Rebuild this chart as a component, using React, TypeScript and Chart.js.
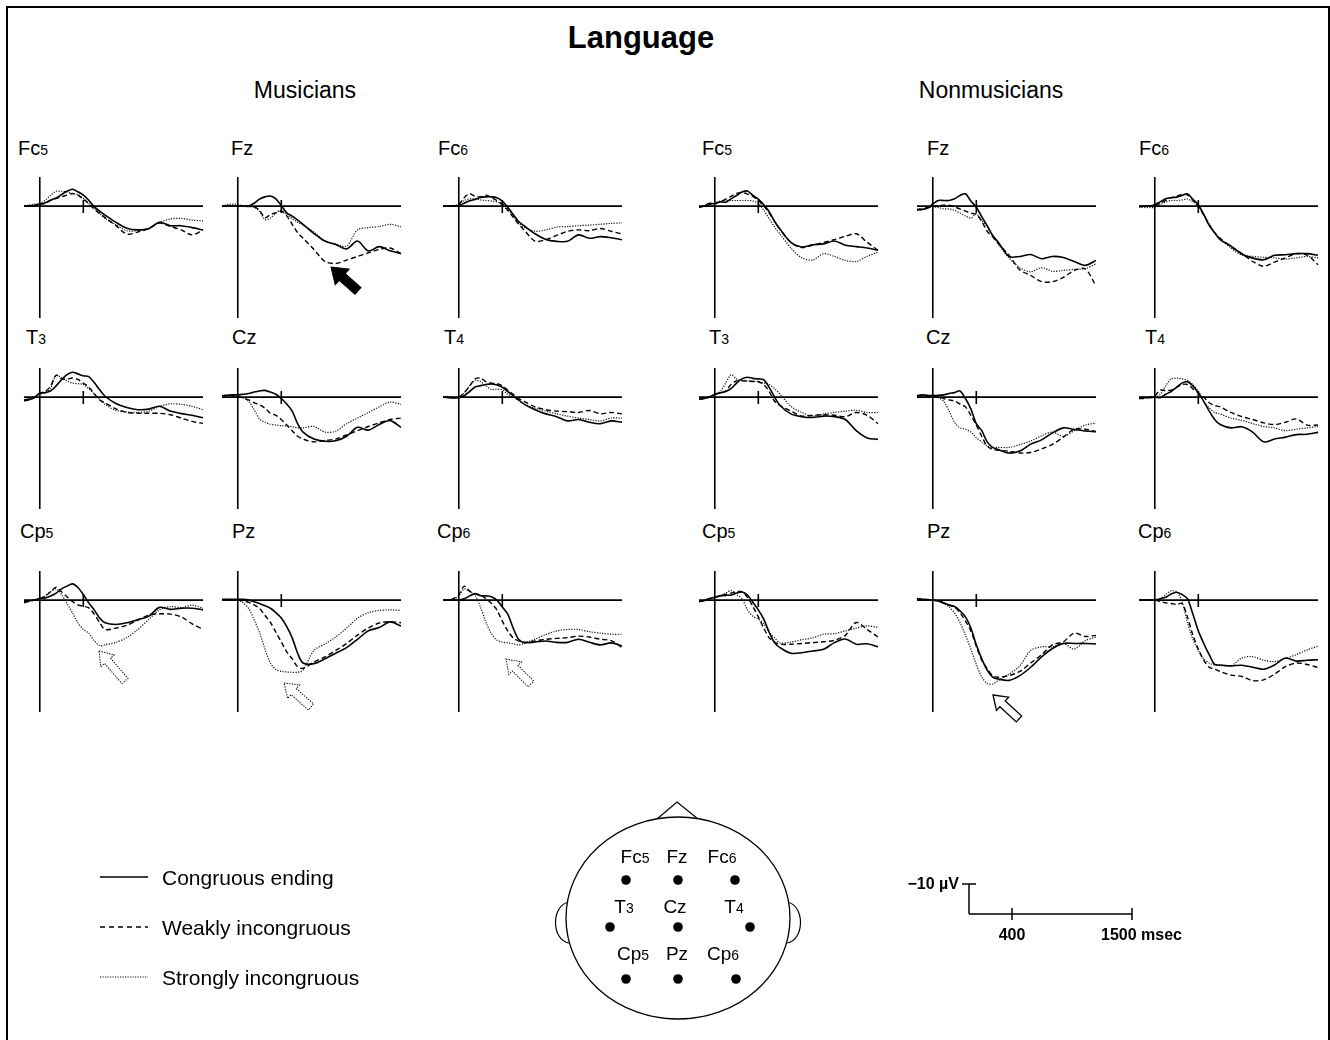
import React, { useEffect, useRef } from "react";
import { Chart, registerables } from "chart.js";

Chart.register(...registerables);

const FONT = "'Liberation Sans', Arial, Helvetica, sans-serif";

// ---- time axis (ms) shared by all waveforms ----
const TIMES = [-145, -100, -50, 0, 50, 100, 150, 200, 250, 300, 350, 400, 450, 500, 550, 600, 700, 800, 900, 1000, 1100, 1200, 1300, 1400, 1500];
const CONDITIONS = ["Congruous ending", "Weakly incongruous", "Strongly incongruous"];
const T_MIN = -145;
const T_MAX = 1500;
const V_MIN = -10.4; // µV (negative up)
const V_MAX = 40;
const TICK_MS = 400;

// ---- Musicians (µV, positive plotted downward) ----
const MUS_FC5_C = [0, 0, -0.2, -0.7, -1.2, -2.1, -2.9, -4.1, -5.3, -6.0, -5.1, -3.9, -2.1, 0.2, 1.8, 3.2, 5.8, 7.9, 8.5, 8.1, 5.8, 7.0, 7.0, 7.7, 8.5];
const MUS_FC5_W = [0, 0, -0.2, -0.7, -0.9, -2.1, -2.7, -3.3, -3.9, -4.5, -3.9, -2.5, -0.9, 1.1, 2.6, 4.1, 7.0, 10.0, 9.3, 8.1, 6.1, 7.3, 8.5, 10.3, 8.5];
const MUS_FC5_S = [0, -0.4, -0.7, -0.9, -2.1, -3.9, -5.3, -5.3, -5.1, -4.5, -4.1, -2.7, -0.9, 0.8, 2.6, 4.4, 6.7, 8.8, 8.8, 7.9, 5.8, 4.6, 4.4, 5.0, 5.3];

const MUS_FZ_C = [0, 0, 0, 0, 0, 0, -1.0, -2.5, -3.3, -3.6, -2.6, -0.2, 2.4, 3.6, 5.0, 6.5, 9.8, 12.5, 13.7, 15.3, 12.5, 16.0, 14.5, 16.0, 17.0];
const MUS_FZ_W = [0, 0, 0, 0, 0, 0, 0.3, 1.5, 4.2, 3.0, 2.4, 1.8, 3.5, 6.5, 9.5, 11.5, 15.5, 19.8, 20.5, 19.3, 18.0, 16.7, 15.5, 15.0, 17.0];
const MUS_FZ_S = [0, -0.5, -0.7, -0.6, 0, 0.3, 0.4, 2.0, 4.8, 4.3, 2.4, 1.5, 3.0, 4.5, 5.8, 6.8, 9.3, 12.5, 13.5, 14.3, 8.5, 7.7, 7.3, 6.5, 7.4];

const MUS_FC6_C = [0, 0, 0, -0.2, -1.0, -1.9, -2.4, -3.1, -3.3, -3.3, -3.0, -1.8, 0.4, 3.0, 5.5, 7.0, 9.9, 11.9, 12.6, 12.6, 10.3, 11.5, 10.9, 11.3, 12.0];
const MUS_FC6_W = [0, 0, 0, -0.6, -3.0, -4.4, -3.5, -3.3, -3.9, -3.1, -2.0, -0.5, 1.5, 4.0, 6.5, 8.5, 12.5, 12.0, 10.5, 9.0, 8.5, 8.8, 8.0, 9.0, 10.0];
const MUS_FC6_S = [0, 0, 0, -0.8, -2.0, -2.6, -2.5, -2.2, -2.0, -1.8, -1.5, -0.8, 1.0, 3.5, 6.0, 7.5, 9.0, 8.5, 7.5, 7.3, 7.0, 6.8, 6.5, 6.2, 6.0];

const MUS_T3_C = [1.4, 0.9, 0.3, -1.5, -1.6, -2.2, -4.0, -6.2, -8.0, -8.9, -8.3, -7.6, -7.3, -5.2, -2.6, -0.3, 2.3, 3.7, 4.5, 4.3, 3.3, 5.0, 5.9, 6.5, 7.4];
const MUS_T3_W = [1.1, 0.6, 0, -1.2, -2.0, -4.0, -7.8, -6.5, -6.4, -6.8, -6.3, -5.0, -3.6, -1.2, 1.0, 2.1, 4.2, 5.5, 5.8, 5.8, 5.8, 6.3, 7.5, 8.7, 9.4];
const MUS_T3_S = [1.0, 0.5, 0, -1.0, -1.5, -3.2, -7.8, -7.0, -5.8, -5.0, -4.8, -4.5, -3.0, -1.2, 0.8, 2.6, 4.8, 5.3, 5.5, 5.1, 3.3, 2.4, 2.6, 3.3, 4.5];

const MUS_CZ_C = [-0.5, -0.6, -0.8, -0.8, -1.0, -1.3, -1.8, -2.2, -2.4, -1.8, -1.0, 0.5, 2.5, 5.0, 9.5, 12.5, 15.0, 15.8, 15.6, 14.0, 10.8, 11.8, 9.8, 8.4, 10.8];
const MUS_CZ_W = [-0.5, -0.6, -0.5, -0.3, 0.3, 1.0, 2.0, 2.8, 4.0, 5.8, 6.5, 8.0, 10.0, 12.0, 14.0, 15.0, 16.0, 15.5, 15.0, 13.5, 12.0, 10.5, 9.2, 8.0, 7.5];
const MUS_CZ_S = [-0.5, -0.5, -0.3, 0, 0.3, 1.5, 4.5, 7.8, 9.0, 9.7, 10.0, 10.2, 10.3, 10.6, 11.0, 11.0, 10.5, 12.5, 12.2, 9.5, 7.5, 5.5, 3.5, 1.8, 2.6];

const MUS_T4_C = [0, 0.2, 0.3, 0.2, -0.5, -2.0, -3.6, -4.1, -4.5, -4.7, -4.3, -3.5, -2.0, -0.5, 1.0, 2.5, 4.5, 6.0, 7.0, 8.5, 8.0, 9.0, 9.5, 8.5, 9.0];
const MUS_T4_W = [0, 0, 0.2, 0, -1.5, -4.0, -6.5, -6.8, -5.5, -5.0, -4.8, -4.0, -2.5, -1.0, 0.5, 1.5, 3.5, 4.5, 5.0, 5.2, 5.5, 4.8, 6.0, 5.5, 6.0];
const MUS_T4_S = [0, 0, 0, 0, -1.5, -4.0, -6.0, -5.5, -4.0, -2.7, -2.8, -2.6, -1.0, 0, 1.2, 2.5, 4.0, 5.0, 6.0, 6.8, 7.5, 8.0, 8.5, 7.5, 7.5];

const MUS_CP5_C = [0.5, 0.3, 0, -0.6, -0.8, -1.5, -2.5, -4.0, -5.0, -5.8, -4.5, -2.0, 1.0, 3.5, 6.4, 8.1, 8.7, 8.1, 7.0, 5.8, 2.6, 3.3, 2.9, 2.9, 3.5];
const MUS_CP5_W = [1.0, 0.5, 0, -0.5, -1.5, -3.0, -4.6, -3.0, -1.2, 0.5, 1.7, 2.2, 2.8, 5.0, 8.0, 10.5, 10.0, 9.0, 7.2, 5.4, 4.9, 5.0, 6.0, 8.5, 10.5];
const MUS_CP5_S = [0.5, 0.2, 0, -0.5, -1.5, -3.0, -4.0, -2.0, 1.2, 4.5, 8.1, 10.5, 11.8, 14.5, 16.3, 16.0, 15.1, 13.4, 10.5, 7.0, 3.5, 2.3, 2.7, 1.8, 2.9];

const MUS_PZ_C = [-0.3, -0.3, -0.3, -0.3, -0.3, 0, 0.6, 1.2, 2.0, 2.9, 4.5, 6.4, 9.5, 13.5, 19.0, 22.5, 22.7, 21.0, 19.0, 17.0, 14.0, 11.0, 9.8, 7.8, 9.3];
const MUS_PZ_W = [0, 0, 0, 0, 0.3, 0.8, 1.7, 3.0, 5.5, 8.0, 11.5, 15.0, 18.5, 21.0, 23.8, 24.4, 22.1, 20.3, 18.0, 15.5, 12.5, 10.0, 8.2, 7.7, 8.1];
const MUS_PZ_S = [0, 0, 0, 0, 1.0, 3.0, 7.0, 11.6, 17.5, 22.5, 24.8, 25.5, 25.7, 25.8, 25.8, 25.0, 18.0, 15.7, 13.2, 10.0, 6.5, 4.5, 3.7, 3.5, 3.7];

const MUS_CP6_C = [0, 0, 0, 0, -0.5, -1.5, -2.3, -1.6, -1.5, -1.2, 0, 2.5, 5.0, 10.0, 14.0, 15.2, 15.0, 14.6, 15.1, 15.1, 14.0, 15.1, 16.0, 15.3, 16.3];
const MUS_CP6_W = [0, 0, -0.5, -2.0, -5.0, -3.2, -2.3, -1.8, -0.5, 1.2, 3.5, 7.5, 11.0, 13.5, 14.6, 15.1, 14.6, 14.0, 13.7, 13.4, 12.9, 13.2, 14.0, 14.5, 16.9];
const MUS_CP6_S = [0, 0, -0.3, -1.5, -4.0, -3.0, -1.8, 2.5, 8.0, 12.0, 14.3, 15.0, 15.3, 15.6, 16.0, 15.5, 14.0, 12.3, 11.0, 10.5, 10.5, 11.3, 11.8, 12.2, 12.2];

// ---- Nonmusicians ----
const NM_FC5_C = [0.4, 0, -1.0, -0.8, -1.5, -1.4, -2.6, -3.8, -5.0, -5.4, -3.8, -2.5, -0.5, 2.0, 5.5, 8.3, 13.0, 14.6, 13.8, 13.5, 12.5, 14.0, 14.5, 15.0, 15.8];
const NM_FC5_W = [0.4, 0, -0.5, -1.0, -1.5, -2.5, -3.5, -4.5, -4.8, -4.3, -3.5, -2.0, 0, 2.5, 5.5, 8.3, 13.0, 14.8, 14.0, 13.0, 12.0, 10.8, 9.9, 12.9, 15.8];
const NM_FC5_S = [0.4, 0, -0.5, -1.2, -1.8, -2.0, -2.0, -2.0, -2.0, -2.0, -1.8, -1.0, 1.5, 4.5, 7.5, 10.0, 15.0, 18.5, 19.3, 17.0, 18.0, 19.4, 19.8, 18.0, 16.4];

const NM_FZ_C = [1.3, 1.2, 0.8, -0.8, -2.0, -2.0, -2.0, -2.6, -3.8, -4.4, -1.8, 0.4, 3.8, 7.0, 10.5, 12.8, 18.0, 18.0, 17.3, 18.8, 18.0, 18.4, 19.8, 21.2, 19.4];
const NM_FZ_W = [1.2, 1.0, 0.5, 0, -0.2, -0.3, -0.3, 0.3, 1.0, 1.8, 2.5, 3.0, 5.5, 9.0, 11.0, 13.3, 17.5, 22.8, 24.8, 27.0, 27.0, 25.5, 23.0, 22.4, 28.5];
const NM_FZ_S = [1.5, 1.2, 0.8, 0.3, 0.5, 1.0, 1.0, 1.5, 2.5, 3.5, 4.3, 2.8, 5.0, 7.5, 10.5, 13.5, 18.5, 22.0, 23.5, 22.0, 23.3, 23.0, 22.6, 22.4, 20.6];

const NM_FC6_C = [0.2, 0, 0, -0.5, -1.5, -2.6, -3.0, -3.2, -3.8, -4.4, -2.4, -0.5, 3.0, 6.9, 9.5, 12.0, 14.3, 17.1, 18.6, 19.2, 17.6, 17.4, 17.0, 17.0, 17.6];
const NM_FC6_W = [0.2, 0, 0, -0.3, -1.0, -2.0, -3.0, -3.5, -4.2, -4.0, -2.2, 0, 3.2, 6.5, 9.5, 11.5, 14.5, 17.0, 19.8, 21.5, 20.0, 18.5, 17.0, 17.5, 21.0];
const NM_FC6_S = [0.2, 0.5, 0.5, 0.5, -0.5, -1.5, -2.0, -2.0, -2.2, -2.5, -1.5, 0, 3.0, 6.5, 9.5, 11.5, 15.0, 17.5, 18.0, 18.3, 18.5, 19.0, 18.5, 18.0, 18.5];

const NM_T3_C = [0.8, 0.5, 0, -1.0, -1.5, -2.0, -3.0, -5.0, -6.5, -7.1, -6.7, -6.5, -6.2, -3.5, 0, 3.0, 6.0, 7.0, 7.3, 6.8, 7.0, 8.0, 12.0, 14.6, 15.1];
const NM_T3_W = [0.8, 0.5, 0, -1.0, -1.5, -2.2, -4.5, -5.8, -5.8, -5.7, -5.6, -5.5, -4.5, -2.0, 1.5, 3.0, 5.0, 6.8, 6.5, 6.3, 6.5, 7.0, 5.5, 6.5, 9.5];
const NM_T3_S = [0.8, 0.5, 0, -1.0, -2.0, -5.0, -8.0, -6.5, -6.0, -5.8, -5.7, -5.5, -5.0, -4.5, -3.0, -1.0, 3.3, 5.5, 6.8, 6.0, 5.5, 5.0, 4.7, 5.5, 5.5];

const NM_CZ_C = [-0.5, -0.8, -0.6, -0.6, -0.6, -0.8, -1.3, -1.6, -2.2, 0.5, 4.2, 9.5, 12.0, 16.0, 18.0, 18.7, 20.0, 19.3, 16.8, 15.3, 12.8, 11.0, 11.6, 12.1, 12.4];
const NM_CZ_W = [-0.3, -0.3, -0.3, 0, -0.2, 0.5, 1.0, 1.4, 2.5, 3.5, 6.5, 10.0, 14.0, 17.5, 18.7, 19.0, 19.3, 20.0, 19.8, 18.5, 16.9, 14.3, 11.5, 11.5, 12.3];
const NM_CZ_S = [-0.3, -0.3, 0, 0, 0.2, 1.5, 5.0, 9.0, 11.0, 11.5, 12.5, 14.5, 16.0, 17.5, 18.0, 18.0, 18.0, 17.0, 15.7, 13.8, 12.5, 14.0, 12.0, 10.0, 9.3];

const NM_T4_C = [0.2, 0.2, 0.2, 0, 0.2, -1.0, -2.0, -3.5, -5.0, -5.5, -4.0, -1.5, 1.5, 5.0, 8.0, 9.8, 11.0, 10.6, 12.5, 16.0, 15.0, 14.3, 13.4, 13.3, 12.6];
const NM_T4_W = [0.5, 0.5, 0, -0.5, -2.5, -2.3, -2.5, -3.5, -4.5, -4.5, -3.0, -1.5, 0, 2.0, 3.0, 3.5, 5.5, 7.0, 8.0, 9.2, 9.8, 9.0, 7.8, 10.0, 10.0];
const NM_T4_S = [0.2, 0.2, 0, 0, -1.0, -4.0, -6.5, -6.8, -6.5, -6.0, -4.5, -2.0, 1.5, 3.8, 5.5, 6.0, 7.5, 8.3, 9.5, 10.5, 11.0, 12.0, 11.5, 11.0, 10.5];

const NM_CP5_C = [0.5, 0.2, -0.5, -1.0, -1.5, -1.7, -1.8, -2.5, -2.9, -1.8, 0.8, 3.5, 6.8, 11.5, 15.3, 17.0, 19.0, 18.8, 18.2, 17.6, 15.2, 13.9, 15.8, 15.6, 16.7];
const NM_CP5_W = [0.5, 0.2, -0.5, -1.0, -1.5, -2.0, -2.5, -3.0, -3.0, -1.0, 2.3, 6.0, 10.0, 13.5, 15.0, 15.8, 15.8, 15.5, 15.2, 14.9, 14.4, 12.6, 8.0, 10.5, 13.2];
const NM_CP5_S = [0.5, 0.2, -0.5, -1.0, -1.5, -2.5, -3.4, -2.0, -0.5, 3.5, 5.8, 6.8, 8.5, 11.5, 13.5, 15.3, 15.0, 14.2, 13.5, 12.2, 12.0, 11.0, 10.0, 9.2, 9.8];

const NM_PZ_C = [-0.5, -0.3, -0.2, 0, 0.3, 1.0, 1.8, 2.3, 3.8, 6.0, 10.0, 16.0, 21.0, 25.0, 27.5, 28.2, 28.7, 27.0, 24.0, 20.3, 17.3, 15.5, 15.5, 15.5, 15.7];
const NM_PZ_W = [-0.5, -0.3, 0, 0, 0.3, 1.0, 1.8, 2.5, 4.5, 7.5, 11.0, 16.5, 21.5, 24.5, 27.0, 27.6, 27.0, 25.5, 22.5, 19.5, 16.0, 14.9, 11.8, 13.0, 12.6];
const NM_PZ_S = [0, 0, 0, 0, 0.5, 1.3, 2.5, 4.6, 8.0, 12.5, 17.5, 23.0, 27.5, 29.8, 30.0, 28.8, 26.5, 23.5, 18.0, 16.7, 16.7, 15.5, 17.5, 14.5, 13.2];

const NM_CP6_C = [0, 0, 0, 0, -0.5, -1.0, -2.2, -2.8, -2.0, -0.5, 5.0, 11.0, 15.5, 19.5, 23.0, 23.2, 23.5, 23.3, 24.0, 24.7, 23.2, 20.7, 21.8, 21.5, 21.3];
const NM_CP6_W = [0, 0, 0, 0, 0.5, 1.0, 1.2, 1.6, 1.2, 6.0, 12.5, 17.5, 21.5, 24.0, 24.7, 25.5, 26.8, 27.3, 28.8, 28.5, 26.5, 23.8, 22.5, 23.0, 24.1];
const NM_CP6_S = [0, 0, 0, 0, -0.5, -2.0, -3.3, -3.0, 0.5, 8.0, 14.0, 18.0, 21.0, 22.5, 23.2, 23.4, 23.5, 20.7, 20.2, 21.5, 22.0, 20.9, 19.5, 17.8, 16.5];

// ---- layout (positions only) ----
const ROW_TOPS = [177, 368, 571];
const ROW_LABEL_Y = [148, 337, 531];
const MUS_AXIS_X = [40, 238, 459];
const NM_AXIS_X = [715, 933, 1155];
const PAD = 6;
const AREA_W = 179;
const AREA_H = 141;

const PANELS = [
  { label: "Fc5", ax: MUS_AXIS_X[0], row: 0, lx: 18, series: [MUS_FC5_C, MUS_FC5_W, MUS_FC5_S] },
  { label: "Fz", ax: MUS_AXIS_X[1], row: 0, lx: 231, series: [MUS_FZ_C, MUS_FZ_W, MUS_FZ_S] },
  { label: "Fc6", ax: MUS_AXIS_X[2], row: 0, lx: 438, series: [MUS_FC6_C, MUS_FC6_W, MUS_FC6_S] },
  { label: "T3", ax: MUS_AXIS_X[0], row: 1, lx: 26, series: [MUS_T3_C, MUS_T3_W, MUS_T3_S] },
  { label: "Cz", ax: MUS_AXIS_X[1], row: 1, lx: 232, series: [MUS_CZ_C, MUS_CZ_W, MUS_CZ_S] },
  { label: "T4", ax: MUS_AXIS_X[2], row: 1, lx: 444, series: [MUS_T4_C, MUS_T4_W, MUS_T4_S] },
  { label: "Cp5", ax: MUS_AXIS_X[0], row: 2, lx: 20, series: [MUS_CP5_C, MUS_CP5_W, MUS_CP5_S] },
  { label: "Pz", ax: MUS_AXIS_X[1], row: 2, lx: 232, series: [MUS_PZ_C, MUS_PZ_W, MUS_PZ_S] },
  { label: "Cp6", ax: MUS_AXIS_X[2], row: 2, lx: 437, series: [MUS_CP6_C, MUS_CP6_W, MUS_CP6_S] },
  { label: "Fc5", ax: NM_AXIS_X[0], row: 0, lx: 702, series: [NM_FC5_C, NM_FC5_W, NM_FC5_S] },
  { label: "Fz", ax: NM_AXIS_X[1], row: 0, lx: 927, series: [NM_FZ_C, NM_FZ_W, NM_FZ_S] },
  { label: "Fc6", ax: NM_AXIS_X[2], row: 0, lx: 1139, series: [NM_FC6_C, NM_FC6_W, NM_FC6_S] },
  { label: "T3", ax: NM_AXIS_X[0], row: 1, lx: 709, series: [NM_T3_C, NM_T3_W, NM_T3_S] },
  { label: "Cz", ax: NM_AXIS_X[1], row: 1, lx: 926, series: [NM_CZ_C, NM_CZ_W, NM_CZ_S] },
  { label: "T4", ax: NM_AXIS_X[2], row: 1, lx: 1145, series: [NM_T4_C, NM_T4_W, NM_T4_S] },
  { label: "Cp5", ax: NM_AXIS_X[0], row: 2, lx: 702, series: [NM_CP5_C, NM_CP5_W, NM_CP5_S] },
  { label: "Pz", ax: NM_AXIS_X[1], row: 2, lx: 927, series: [NM_PZ_C, NM_PZ_W, NM_PZ_S] },
  { label: "Cp6", ax: NM_AXIS_X[2], row: 2, lx: 1138, series: [NM_CP6_C, NM_CP6_W, NM_CP6_S] },
];

const LINE_STYLES = [
  { borderColor: "#000", borderWidth: 1.6, borderDash: [] as number[] },
  { borderColor: "#000", borderWidth: 1.4, borderDash: [5, 3] },
  { borderColor: "#111", borderWidth: 1.2, borderDash: [1.2, 1.4] },
];

const axesPlugin = {
  id: "erpAxes",
  beforeDatasetsDraw(chart: any) {
    const { ctx, scales } = chart;
    const x = scales.x;
    const y = scales.y;
    const x0 = x.getPixelForValue(0);
    const y0 = y.getPixelForValue(0);
    const xt = x.getPixelForValue(TICK_MS);
    ctx.save();
    ctx.strokeStyle = "#000";
    ctx.lineWidth = 1.6;
    ctx.setLineDash([]);
    ctx.beginPath();
    ctx.moveTo(x0, y.getPixelForValue(V_MIN));
    ctx.lineTo(x0, y.getPixelForValue(V_MAX));
    ctx.moveTo(x.getPixelForValue(T_MIN), y0);
    ctx.lineTo(x.getPixelForValue(T_MAX), y0);
    ctx.moveTo(xt, y0 - 6);
    ctx.lineTo(xt, y0 + 7);
    ctx.stroke();
    ctx.restore();
  },
};

function ErpPanel({ left, top, series }: { left: number; top: number; series: number[][] }) {
  const ref = useRef<HTMLCanvasElement | null>(null);
  useEffect(() => {
    if (!ref.current) return;
    const chart = new Chart(ref.current, {
      type: "line",
      data: {
        datasets: series.map((vals, i) => ({
          label: CONDITIONS[i],
          data: TIMES.map((t, j) => ({ x: t, y: vals[j] })),
          borderColor: LINE_STYLES[i].borderColor,
          borderWidth: LINE_STYLES[i].borderWidth,
          borderDash: LINE_STYLES[i].borderDash,
          pointRadius: 0,
          tension: 0.3,
          fill: false,
          clip: false as any,
        })),
      },
      options: {
        animation: false,
        responsive: false,
        events: [],
        layout: { padding: PAD },
        plugins: { legend: { display: false }, tooltip: { enabled: false } },
        scales: {
          x: { type: "linear", min: T_MIN, max: T_MAX, display: false },
          y: { type: "linear", min: V_MIN, max: V_MAX, reverse: true, display: false },
        },
      },
      plugins: [axesPlugin],
    } as any);
    return () => chart.destroy();
  }, []);
  const w = AREA_W + 2 * PAD;
  const h = AREA_H + 2 * PAD;
  return (
    <canvas
      ref={ref}
      width={w}
      height={h}
      style={{ position: "absolute", left, top, width: w, height: h }}
    />
  );
}

function Txt({
  x,
  y,
  size,
  bold,
  align = "left",
  children,
}: {
  x: number;
  y: number;
  size: number;
  bold?: boolean;
  align?: "left" | "center" | "right";
  children: React.ReactNode;
}) {
  const style: React.CSSProperties = {
    position: "absolute",
    top: y - 0.49 * size,
    fontSize: size,
    lineHeight: `${size}px`,
    fontWeight: bold ? 700 : 400,
    fontFamily: FONT,
    whiteSpace: "nowrap",
    color: "#000",
  };
  if (align === "left") style.left = x;
  else if (align === "right") style.right = 1330 - x;
  else {
    style.left = x;
    style.transform = "translateX(-50%)";
  }
  return <div style={style}>{children}</div>;
}

function ElectrodeName({ name, digitSize }: { name: string; digitSize: number }) {
  const parts = name.split(/(\d)/).filter((p) => p.length > 0);
  return (
    <>
      {parts.map((p, i) =>
        /\d/.test(p) ? (
          <span key={i} style={{ fontSize: digitSize }}>
            {p}
          </span>
        ) : (
          <span key={i}>{p}</span>
        )
      )}
    </>
  );
}

function arrowPoints(L: number, hl: number, hw: number, sw: number) {
  return `0,0 ${hl},${-hw / 2} ${hl},${-sw / 2} ${L},${-sw / 2} ${L},${sw / 2} ${hl},${sw / 2} ${hl},${hw / 2}`;
}

function Arrow({
  tip,
  tail,
  kind,
}: {
  tip: [number, number];
  tail: [number, number];
  kind: "black" | "dotted" | "outline";
}) {
  const dx = tail[0] - tip[0];
  const dy = tail[1] - tip[1];
  const L = Math.hypot(dx, dy);
  const ang = (Math.atan2(dy, dx) * 180) / Math.PI;
  const big = kind === "black";
  const pts = arrowPoints(L, big ? 15 : 13, big ? 21 : 18, big ? 9 : 8);
  return (
    <polygon
      points={pts}
      transform={`translate(${tip[0]},${tip[1]}) rotate(${ang})`}
      fill={kind === "black" ? "#000" : "#fff"}
      stroke="#000"
      strokeWidth={kind === "outline" ? 1.3 : 1}
      strokeDasharray={kind === "dotted" ? "1.3 1.3" : undefined}
      strokeLinejoin="miter"
    />
  );
}

const HEAD_DOTS: [number, number][] = [
  [626, 880], [678, 880], [735, 880],
  [610, 927], [678, 927], [750, 927],
  [626, 979], [678, 979], [736, 979],
];
const HEAD_LABELS: { n: string; x: number; y: number }[] = [
  { n: "Fc5", x: 635, y: 856 }, { n: "Fz", x: 677, y: 856 }, { n: "Fc6", x: 722, y: 856 },
  { n: "T3", x: 624, y: 906 }, { n: "Cz", x: 675, y: 906 }, { n: "T4", x: 734, y: 906 },
  { n: "Cp5", x: 633, y: 953 }, { n: "Pz", x: 677, y: 953 }, { n: "Cp6", x: 723, y: 953 },
];

const LEGEND_Y = [877, 927, 977];

export default function App() {
  return (
    <div
      style={{
        position: "absolute",
        left: 0,
        top: 0,
        width: 1330,
        height: 1040,
        overflow: "hidden",
        background: "#fff",
        fontFamily: FONT,
      }}
    >
      <div
        style={{
          position: "absolute",
          left: 6,
          top: 6,
          width: 1324,
          height: 1100,
          border: "2px solid #000",
          boxSizing: "border-box",
        }}
      />

      <Txt x={641} y={37} size={31} bold align="center">Language</Txt>
      <Txt x={305} y={90} size={23} align="center">Musicians</Txt>
      <Txt x={991} y={90} size={23} align="center">Nonmusicians</Txt>

      {PANELS.map((p, i) => (
        <React.Fragment key={i}>
          <Txt x={p.lx} y={ROW_LABEL_Y[p.row]} size={20}>
            <ElectrodeName name={p.label} digitSize={14} />
          </Txt>
          <ErpPanel left={Math.round(p.ax - 22)} top={ROW_TOPS[p.row] - PAD} series={p.series} />
        </React.Fragment>
      ))}

      <svg
        width={1330}
        height={1040}
        style={{ position: "absolute", left: 0, top: 0, pointerEvents: "none" }}
      >
        {/* annotation arrows */}
        <Arrow tip={[331, 267]} tail={[358, 291]} kind="black" />
        <Arrow tip={[99, 651]} tail={[125, 681]} kind="dotted" />
        <Arrow tip={[284, 683]} tail={[311, 707]} kind="dotted" />
        <Arrow tip={[506, 659]} tail={[531, 684]} kind="dotted" />
        <Arrow tip={[993, 695]} tail={[1019, 719]} kind="outline" />

        {/* legend samples */}
        <line x1={100} y1={LEGEND_Y[0]} x2={148} y2={LEGEND_Y[0]} stroke="#000" strokeWidth={1.5} />
        <line x1={100} y1={LEGEND_Y[1]} x2={148} y2={LEGEND_Y[1]} stroke="#000" strokeWidth={1.4} strokeDasharray="5 4" />
        <line x1={100} y1={LEGEND_Y[2]} x2={148} y2={LEGEND_Y[2]} stroke="#111" strokeWidth={1.2} strokeDasharray="1.2 1.3" />

        {/* head */}
        <polyline points="657,819 677,802 698,819" fill="none" stroke="#000" strokeWidth={1.2} />
        <path d="M 569 902 C 551 905, 551 940, 569 943" fill="#fff" stroke="#000" strokeWidth={1.2} />
        <path d="M 787 902 C 805 905, 805 940, 787 943" fill="#fff" stroke="#000" strokeWidth={1.2} />
        <ellipse cx={678} cy={918} rx={112} ry={101} fill="#fff" stroke="#000" strokeWidth={1.3} />
        {HEAD_DOTS.map(([cx, cy], i) => (
          <circle key={i} cx={cx} cy={cy} r={4.8} fill="#000" />
        ))}

        {/* scale bar */}
        <line x1={962} y1={884} x2={976} y2={884} stroke="#000" strokeWidth={1.5} />
        <line x1={969} y1={884} x2={969} y2={914} stroke="#000" strokeWidth={1.5} />
        <line x1={969} y1={914} x2={1132} y2={914} stroke="#000" strokeWidth={1.5} />
        <line x1={1012} y1={908} x2={1012} y2={920} stroke="#000" strokeWidth={1.5} />
        <line x1={1132} y1={908} x2={1132} y2={920} stroke="#000" strokeWidth={1.5} />
      </svg>

      {CONDITIONS.map((c, i) => (
        <Txt key={c} x={162} y={LEGEND_Y[i]} size={21}>{c}</Txt>
      ))}

      {HEAD_LABELS.map((l) => (
        <Txt key={l.n} x={l.x} y={l.y} size={19} align="center">
          <ElectrodeName name={l.n} digitSize={14} />
        </Txt>
      ))}

      <Txt x={959} y={884} size={16} bold align="right">−10 µV</Txt>
      <Txt x={1012} y={935} size={16} bold align="center">400</Txt>
      <Txt x={1101} y={935} size={16} bold>1500 msec</Txt>
    </div>
  );
}
